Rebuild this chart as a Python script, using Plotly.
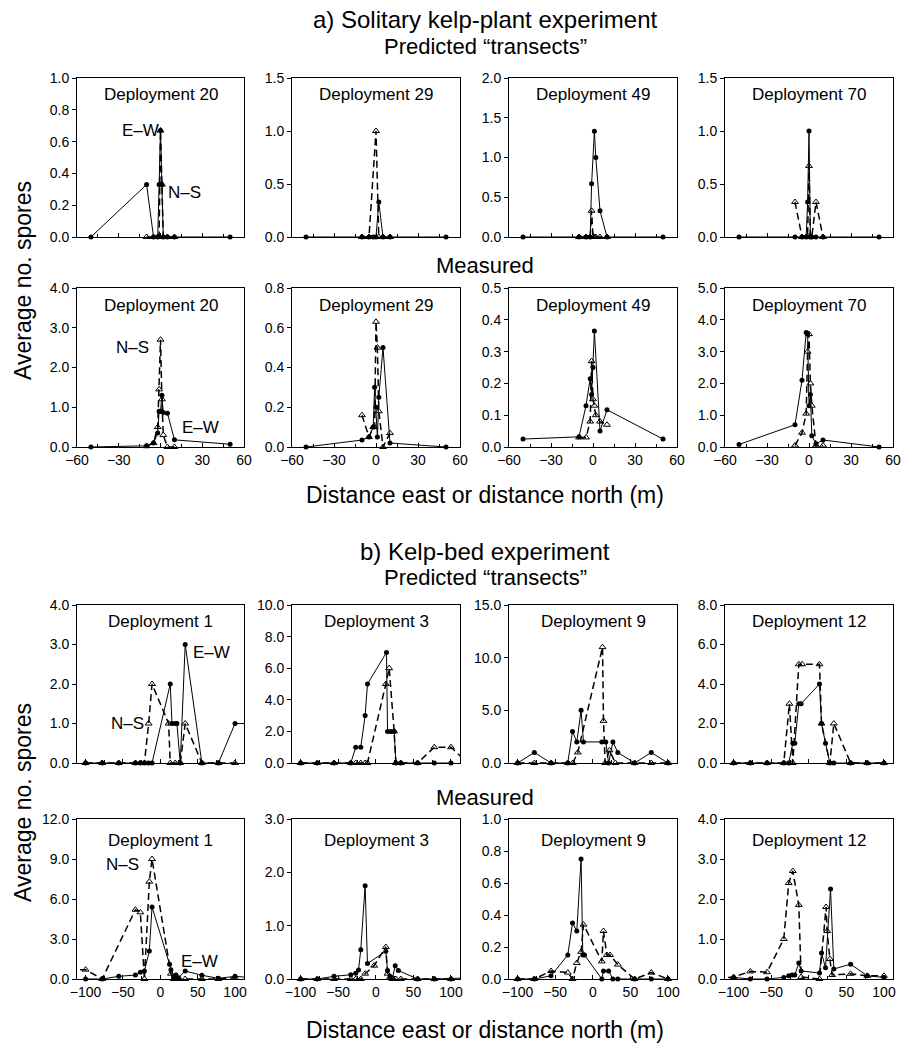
import plotly.graph_objects as go

# ------------------------------------------------------------------ data
# Part a) Solitary kelp-plant experiment  (x in m, y = average no. spores)
# Predicted "transects"
A_P20_EW_X = [-50, -10, -5, -2, -1, 0, 1, 2, 5, 10, 50]
A_P20_EW_Y = [0, 0.33, 0, 0, 0.33, 0.67, 0.33, 0, 0, 0, 0]
A_P20_NS_X = [-10, -5, -2, -1, 0, 1, 2, 5, 10]
A_P20_NS_Y = [0, 0, 0, 0, 0.67, 0.33, 0, 0, 0]

A_P29_EW_X = [-50, -10, -5, -2, 0, 2, 5, 10, 50]
A_P29_EW_Y = [0, 0, 0, 0, 0, 0.33, 0, 0, 0]
A_P29_NS_X = [-10, -5, 0, 2, 5, 10]
A_P29_NS_Y = [0, 0, 1.0, 0, 0, 0]

A_P49_EW_X = [-50, -10, -5, -2, -1, 1, 2, 5, 10, 50]
A_P49_EW_Y = [0, 0, 0, 0, 0.67, 1.33, 1.0, 0.33, 0, 0]
A_P49_NS_X = [-10, -5, -2, -1, 0, 1, 2, 5, 10]
A_P49_NS_Y = [0, 0, 0, 0.33, 0, 0, 0, 0, 0]

A_P70_EW_X = [-50, -10, -5, -2, -1, 0, 1, 2, 5, 10, 50]
A_P70_EW_Y = [0, 0, 0, 0, 0.33, 1.0, 0, 0, 0, 0, 0]
A_P70_NS_X = [-10, -5, -2, -1, 0, 1, 2, 5, 10]
A_P70_NS_Y = [0.33, 0, 0, 0, 0.67, 0, 0, 0.33, 0]

# Measured
A_M20_EW_X = [-50, -10, -5, -2, -1, 0, 1, 2, 5, 10, 50]
A_M20_EW_Y = [0, 0.03, 0.1, 0.35, 0.9, 0.9, 1.3, 0.87, 0.85, 0.18, 0.07]
A_M20_NS_X = [-10, -5, -2, -1, 0, 1, 2, 5, 10]
A_M20_NS_Y = [0.02, 0.1, 0.5, 1.45, 2.7, 1.2, 0.3, 0, 0]

A_M29_EW_X = [-50, -10, -5, -2, -1, 0, 1, 2, 5, 10, 50]
A_M29_EW_Y = [0, 0.035, 0.05, 0.1, 0.3, 0.2, 0.05, 0.25, 0.5, 0.02, 0]
A_M29_NS_X = [-10, -5, -2, -1, 0, 1, 2, 5, 10]
A_M29_NS_Y = [0.16, 0.05, 0.1, 0.1, 0.63, 0.5, 0.18, 0, 0.07]

A_M49_EW_X = [-50, -10, -5, -2, -1, 0, 1, 5, 10, 50]
A_M49_EW_Y = [0.025, 0.032, 0.13, 0.215, 0.165, 0.25, 0.365, 0.05, 0.117, 0.025]
A_M49_NS_X = [-10, -5, -2, -1, 0, 1, 2, 5, 10]
A_M49_NS_Y = [0.03, 0.03, 0.08, 0.27, 0.15, 0.13, 0.1, 0.08, 0.07]

A_M70_EW_X = [-50, -10, -5, -2, -1, 0, 1, 2, 5, 10, 50]
A_M70_EW_Y = [0.08, 0.7, 2.1, 3.6, 3.55, 1.3, 1.65, 0.35, 0.1, 0.22, 0]
A_M70_NS_X = [-10, -5, -2, -1, 0, 1, 2, 5, 10]
A_M70_NS_Y = [0.05, 0.45, 1.05, 3.0, 3.55, 2.0, 1.3, 0.05, 0.05]

# Part b) Kelp-bed experiment
# Predicted "transects"
B_P1_EW_X = [-100, -77.8, -55.6, -33.3, -26.7, -21.3, -16, -11.1, 13.3, 15.6, 20, 22.2, 26.7, 33.3, 55.6, 77.8, 100, 122.2]
B_P1_EW_Y = [0, 0, 0, 0, 0, 0, 0, 0, 2.0, 1.0, 1.0, 1.0, 0, 3.0, 0, 0, 1.0, 1.0]
B_P1_NS_X = [-100, -77.8, -55.6, -33.3, -26.7, -21.3, -15.6, -11.1, 11.1, 13.3, 20, 26.7, 33.3, 55.6, 77.8, 100]
B_P1_NS_Y = [0, 0, 0, 0, 0, 0, 1.0, 2.0, 1.0, 0, 0, 0, 1.0, 0, 0, 0]

B_P3_EW_X = [-100, -77.8, -55.6, -33.3, -26.7, -20, -14.2, -11.1, 14.2, 15.6, 20, 24.4, 26.7, 33.3, 55.6, 77.8, 100]
B_P3_EW_Y = [0, 0, 0, 0, 1.0, 1.0, 3.0, 5.0, 7.0, 2.0, 2.0, 2.0, 0, 0, 0, 0, 0]
B_P3_NS_X = [-100, -77.8, -55.6, -33.3, -26.7, -20, -14.2, -11.1, 13.3, 17.8, 24.4, 26.7, 33.3, 55.6, 77.8, 100, 122.2]
B_P3_NS_Y = [0, 0, 0, 0, 0, 0, 0, 0, 5.0, 6.0, 2.0, 0, 0, 0, 1.0, 1.0, 0]

B_P9_EW_X = [-100, -77.8, -55.6, -33.3, -27, -21.3, -15.6, -12.4, 12, 17.3, 21, 26.7, 33.3, 55.6, 77.8, 100]
B_P9_EW_Y = [0, 1.0, 0, 0, 3.0, 2.0, 5.0, 2.0, 2.0, 2.0, 0, 2.0, 1.0, 0, 1.0, 0]
B_P9_NS_X = [-100, -77.8, -55.6, -33.3, -26.7, -20, 12.9, 14.2, 16.4, 22.2, 30, 55.6, 77.8, 100]
B_P9_NS_Y = [0, 0, 0, 0, 0, 1.0, 11.0, 4.0, 0, 1.2, 0, 0, 0, 0]

B_P12_EW_X = [-100, -77.8, -55.6, -33.3, -26.7, -21.3, -18.7, -13.3, -10.2, 14.2, 16.9, 22.2, 28, 33.3, 55.6, 77.8, 100]
B_P12_EW_Y = [0, 0, 0, 0, 0, 1.0, 1.0, 3.0, 3.0, 4.0, 2.0, 1.0, 0, 0, 0, 0, 0]
B_P12_NS_X = [-100, -77.8, -55.6, -33.3, -25.8, -21.3, -13.3, -8.9, 14.2, 16.9, 28, 33.3, 55.6, 77.8, 100]
B_P12_NS_Y = [0, 0, 0, 0, 3.0, 0, 5.0, 5.0, 5.0, 2.0, 0, 2.0, 0, 0, 0]

# Measured
B_M1_EW_X = [-100, -77.8, -55.6, -33.3, -26.7, -21.3, -14.7, -11.1, 12.4, 14.2, 17.8, 21, 24.4, 33.3, 55.6, 77.8, 100, 122.2]
B_M1_EW_Y = [0, 0, 0.2, 0.3, 0.5, 0.6, 2.1, 5.4, 1.1, 0.7, 0.1, 0.3, 0.1, 0.6, 0.28, 0.05, 0.2, 0.1]
B_M1_NS_X = [-122.2, -100, -77.8, -33.3, -26.7, -21.3, -14.7, -11.1, 14.2, 17.8, 24.4, 33.3, 55.6, 77.8, 100]
B_M1_NS_Y = [0.7, 0.7, 0, 5.2, 5.0, 0, 7.3, 9.0, 0.4, 0, 0, 0, 0, 0, 0.1]

B_M3_EW_X = [-100, -77.8, -55.6, -33.3, -26.7, -23, -20, -14.2, -11.1, 13.3, 15.6, 19, 22.2, 25.8, 30, 55.6, 77.8, 100, 122.2]
B_M3_EW_Y = [0, 0, 0.05, 0.08, 0.11, 0.17, 0.55, 1.75, 0.29, 0.52, 0.16, 0.05, 0.02, 0.25, 0.16, 0, 0, 0, 0.02]
B_M3_NS_X = [-100, -77.8, -55.6, -33.3, -26.7, -20, -14.2, -2.2, 13.3, 15.6, 19, 22.2, 26.7, 33.3, 55.6, 77.8, 100]
B_M3_NS_Y = [0, 0, 0, 0, 0, 0, 0.1, 0.25, 0.6, 0.1, 0.03, 0, 0, 0, 0, 0, 0]

B_M9_EW_X = [-100, -77.8, -55.6, -33.3, -27, -21.3, -15.6, -13.3, -11.1, 12, 14.2, 21, 26.7, 33.3, 55.6, 77.8, 100]
B_M9_EW_Y = [0, 0, 0.02, 0.15, 0.35, 0.3, 0.75, 0.15, 0.15, 0, 0.05, 0.05, 0, 0, 0, 0, 0]
B_M9_NS_X = [-100, -77.8, -55.6, -33.3, -27, -21.3, -15.6, -12.4, 12, 14.2, 18.7, 23, 33.3, 55.6, 77.8, 100]
B_M9_NS_Y = [0, 0, 0.05, 0.04, 0, 0.1, 0.17, 0.34, 0.11, 0.3, 0.15, 0.15, 0.09, 0, 0.04, 0]

B_M12_EW_X = [-100, -77.8, -55.6, -33.3, -26.7, -22.2, -18.7, -13.3, -10.2, 14.2, 16.9, 22.2, 28.9, 33.3, 55.6, 77.8, 100]
B_M12_EW_Y = [0.04, 0, 0, 0.04, 0.08, 0.1, 0.1, 0.4, 0.2, 0.15, 0.65, 0.28, 2.25, 0.25, 0.37, 0.08, 0.04]
B_M12_NS_X = [-122.2, -100, -77.8, -55.6, -33.3, -26.7, -21.3, -13.3, -10.2, 14.2, 23, 24.4, 28, 31, 55.6, 77.8, 100]
B_M12_NS_Y = [0.02, 0.05, 0.19, 0.17, 1.0, 2.4, 2.7, 1.85, 0.05, 0, 1.8, 1.2, 0.5, 0.1, 0.13, 0.08, 0.08]

# panel titles, y-axis tops and tick steps (row by row)
DEPLOY_LABELS = [["Deployment 20", "Deployment 29", "Deployment 49", "Deployment 70"],
                 ["Deployment 20", "Deployment 29", "Deployment 49", "Deployment 70"],
                 ["Deployment 1", "Deployment 3", "Deployment 9", "Deployment 12"],
                 ["Deployment 1", "Deployment 3", "Deployment 9", "Deployment 12"]]
Y_TOPS = [[1.0, 1.5, 2.0, 1.5],
          [4.0, 0.8, 0.5, 5.0],
          [4.0, 10.0, 15.0, 8.0],
          [12.0, 3.0, 1.0, 4.0]]
Y_STEPS = [[0.2, 0.5, 0.5, 0.5],
           [1.0, 0.2, 0.1, 1.0],
           [1.0, 2.0, 5.0, 2.0],
           [3.0, 1.0, 0.2, 1.0]]
A_XRANGE = [-60, 60]
B_XRANGE = [-111.5, 112]

SERIES = [
    [(A_P20_EW_X, A_P20_EW_Y, A_P20_NS_X, A_P20_NS_Y), (A_P29_EW_X, A_P29_EW_Y, A_P29_NS_X, A_P29_NS_Y),
     (A_P49_EW_X, A_P49_EW_Y, A_P49_NS_X, A_P49_NS_Y), (A_P70_EW_X, A_P70_EW_Y, A_P70_NS_X, A_P70_NS_Y)],
    [(A_M20_EW_X, A_M20_EW_Y, A_M20_NS_X, A_M20_NS_Y), (A_M29_EW_X, A_M29_EW_Y, A_M29_NS_X, A_M29_NS_Y),
     (A_M49_EW_X, A_M49_EW_Y, A_M49_NS_X, A_M49_NS_Y), (A_M70_EW_X, A_M70_EW_Y, A_M70_NS_X, A_M70_NS_Y)],
    [(B_P1_EW_X, B_P1_EW_Y, B_P1_NS_X, B_P1_NS_Y), (B_P3_EW_X, B_P3_EW_Y, B_P3_NS_X, B_P3_NS_Y),
     (B_P9_EW_X, B_P9_EW_Y, B_P9_NS_X, B_P9_NS_Y), (B_P12_EW_X, B_P12_EW_Y, B_P12_NS_X, B_P12_NS_Y)],
    [(B_M1_EW_X, B_M1_EW_Y, B_M1_NS_X, B_M1_NS_Y), (B_M3_EW_X, B_M3_EW_Y, B_M3_NS_X, B_M3_NS_Y),
     (B_M9_EW_X, B_M9_EW_Y, B_M9_NS_X, B_M9_NS_Y), (B_M12_EW_X, B_M12_EW_Y, B_M12_NS_X, B_M12_NS_Y)],
]

# ------------------------------------------------------------------ layout geometry (pixels)
W, H = 902, 1044
COL_PX = [(77, 244), (292, 460), (509, 677), (725, 893)]
ROW_PX = [(78, 237), (288, 447), (605, 763), (819, 979)]
FONT = "Liberation Sans, Arial, Helvetica, sans-serif"


def px_x(p):
    return p / W


def px_y(p):
    return 1 - p / H


fig = go.Figure()
layout = dict(width=W, height=H, margin=dict(l=0, r=0, t=0, b=0, autoexpand=False),
              paper_bgcolor="white", plot_bgcolor="white", showlegend=False,
              font=dict(family=FONT, color="black", size=14))
annotations = []

for r in range(4):
    for c in range(4):
        i = r * 4 + c + 1
        xa = "x" if i == 1 else f"x{i}"
        ya = "y" if i == 1 else f"y{i}"
        part_a = r < 2
        xr = A_XRANGE if part_a else B_XRANGE
        ewx, ewy, nsx, nsy = SERIES[r][c]

        # N-S: dashed line, open triangles
        fig.add_trace(go.Scatter(x=nsx, y=nsy, mode="lines", xaxis=xa, yaxis=ya,
                                 line=dict(color="black", width=1.5, dash="7px,4px"),
                                 hoverinfo="skip"))
        inx = [(x, y) for x, y in zip(nsx, nsy) if xr[0] <= x <= xr[1]]
        fig.add_trace(go.Scatter(x=[p[0] for p in inx], y=[p[1] for p in inx], mode="markers",
                                 xaxis=xa, yaxis=ya, cliponaxis=False,
                                 marker=dict(symbol="triangle-up-open", size=6, color="black",
                                             line=dict(width=1, color="black"))))
        # E-W: solid line, filled circles
        fig.add_trace(go.Scatter(x=ewx, y=ewy, mode="lines", xaxis=xa, yaxis=ya,
                                 line=dict(color="black", width=1), hoverinfo="skip"))
        inx = [(x, y) for x, y in zip(ewx, ewy) if xr[0] <= x <= xr[1]]
        fig.add_trace(go.Scatter(x=[p[0] for p in inx], y=[p[1] for p in inx], mode="markers",
                                 xaxis=xa, yaxis=ya, cliponaxis=False,
                                 marker=dict(symbol="circle", size=5, color="black")))

        top, step = Y_TOPS[r][c], Y_STEPS[r][c]
        n = int(round(top / step))
        yvals = [round(k * step, 6) for k in range(n + 1)]
        bottom_row = r in (1, 3)
        layout["xaxis" if i == 1 else f"xaxis{i}"] = dict(
            domain=[px_x(COL_PX[c][0]), px_x(COL_PX[c][1])], anchor=ya, automargin=False,
            range=xr, tickmode="linear", tick0=0, dtick=30 if part_a else 50,
            ticks="inside", ticklen=4, tickcolor="black", tickwidth=1,
            minor=dict(dtick=15 if part_a else 25, tick0=0, ticks="inside", ticklen=3,
                       tickcolor="black", tickwidth=1),
            showticklabels=bottom_row, tickfont=dict(size=14, family=FONT),
            showline=True, linecolor="black", linewidth=1, mirror=True,
            showgrid=False, zeroline=False, fixedrange=True)
        layout["yaxis" if i == 1 else f"yaxis{i}"] = dict(
            domain=[px_y(ROW_PX[r][1]), px_y(ROW_PX[r][0])], anchor=xa, automargin=False,
            range=[0, top], tickmode="array", tickvals=yvals,
            ticktext=[f"{v:.1f}" for v in yvals],
            ticks="outside", ticklen=4, tickcolor="black", tickwidth=1,
            tickfont=dict(size=14, family=FONT),
            showline=True, linecolor="black", linewidth=1, mirror=True,
            showgrid=False, zeroline=False, fixedrange=True)

        lab_off = 17 if r < 3 else 21
        annotations.append(dict(text=DEPLOY_LABELS[r][c], xref=f"{xa} domain", yref=f"{ya} domain",
                                x=0.5, y=1 - lab_off / 159, xanchor="center", yanchor="middle",
                                showarrow=False, font=dict(size=17, family=FONT)))

# series labels (data coordinates)
SERIES_LABELS = [("x", "y", -14.5, 0.67, "E–W"), ("x", "y", 17.5, 0.28, "N–S"),
                 ("x5", "y5", -20, 2.5, "N–S"), ("x5", "y5", 28.5, 0.5, "E–W"),
                 ("x9", "y9", -44, 1.0, "N–S"), ("x9", "y9", 69, 2.8, "E–W"),
                 ("x13", "y13", -51, 8.6, "N–S"), ("x13", "y13", 52, 1.3, "E–W")]
for xr_, yr_, x, y, t in SERIES_LABELS:
    annotations.append(dict(text=t, xref=xr_, yref=yr_, x=x, y=y, showarrow=False,
                            xanchor="center", yanchor="middle", font=dict(size=17, family=FONT)))

CX = 485
TEXTS = [("a) Solitary kelp-plant experiment", CX, 19, 24),
         ("Predicted “transects”", CX, 46, 22),
         ("Measured", CX, 265, 22),
         ("Distance east or distance north (m)", CX, 495, 23),
         ("b) Kelp-bed experiment", CX, 551, 24),
         ("Predicted “transects”", CX, 577, 22),
         ("Measured", CX, 797, 22),
         ("Distance east or distance north (m)", CX, 1030, 23)]
for t, x, y, s in TEXTS:
    annotations.append(dict(text=t, xref="paper", yref="paper", x=px_x(x), y=px_y(y),
                            xanchor="center", yanchor="middle", showarrow=False,
                            font=dict(size=s, family=FONT)))
for y in (281, 803):
    annotations.append(dict(text="Average no. spores", xref="paper", yref="paper",
                            x=px_x(23), y=px_y(y), xanchor="center", yanchor="middle",
                            textangle=-90, showarrow=False, font=dict(size=23, family=FONT)))

layout["annotations"] = annotations
fig.update_layout(**layout)
fig.write_html("out.html")
